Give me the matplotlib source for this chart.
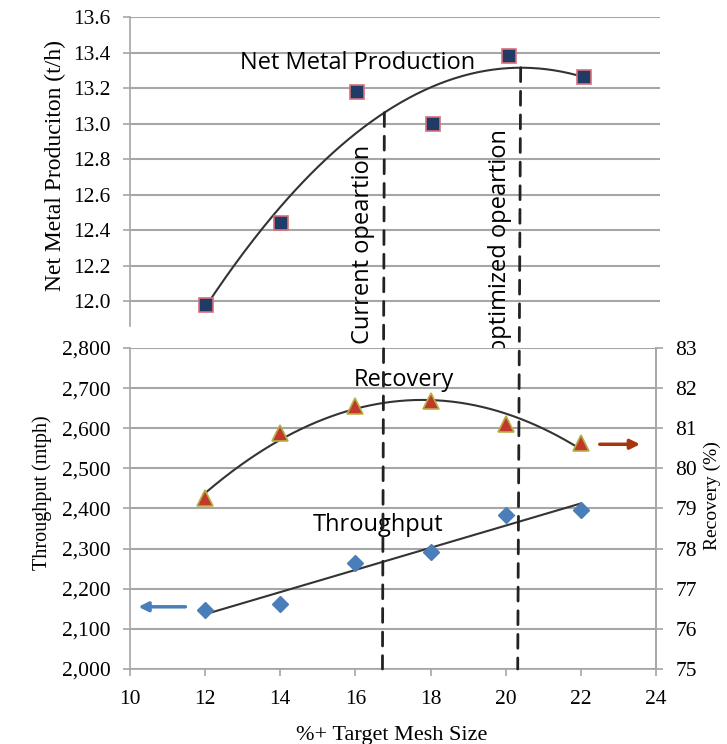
import numpy as np
import matplotlib
matplotlib.use("Agg")
import matplotlib.pyplot as plt
from matplotlib.patches import ConnectionPatch

# ---- data ----
mesh = [12, 14, 16, 18, 20, 22]
net_metal = [11.98, 12.44, 13.18, 13.00, 13.38, 13.26]
throughput = [2148, 2162, 2265, 2292, 2384, 2396]
recovery = [79.26, 80.88, 81.56, 81.69, 81.10, 80.63]
current_op = 16.72
optimized_op = 20.32
net_ticks = [12.0, 12.2, 12.4, 12.6, 12.8, 13.0, 13.2, 13.4, 13.6]
thr_ticks = [2000, 2100, 2200, 2300, 2400, 2500, 2600, 2700, 2800]
rec_ticks = [75, 76, 77, 78, 79, 80, 81, 82, 83]
x_ticks = [10, 12, 14, 16, 18, 20, 22, 24]

SERIF = "Liberation Serif"
SANS = "Open Sans"
GRID = "#a6a6a6"
TICK_FS = 15.5
ANN_FS = 17

fig = plt.figure(figsize=(7.27, 7.44), dpi=100)
ax_top = fig.add_axes([0.1788, 0.5618, 0.729, 0.4153])
ax_bot = fig.add_axes([0.1788, 0.1008, 0.7235, 0.4315])
ax_rec = ax_bot.twinx()

# ---- top panel ----
xs = np.linspace(12, 22, 200)
p_top = np.polyfit(mesh, net_metal, 2)
ax_top.plot(xs, np.polyval(p_top, xs), color="#333333", lw=1.5, zorder=3)
ax_top.plot(mesh, net_metal, ls="none", marker="s", ms=10, mfc="#1f3b66",
            mec="#d9707a", mew=1.2, zorder=4)
ax_top.set_xlim(10, 24)
ax_top.set_ylim(11.86, 13.6)
ax_top.set_yticks(net_ticks)
ax_top.set_yticklabels([f"{v:.1f}" for v in net_ticks], family=SERIF, fontsize=TICK_FS)
ax_top.set_xticks([])
for s in ["top", "right", "bottom"]:
    ax_top.spines[s].set_visible(False)
ax_top.spines["left"].set_color(GRID)
ax_top.spines["left"].set_linewidth(1.2)
ax_top.tick_params(axis="y", color=GRID, length=5, width=1.2, pad=9)
ax_top.grid(axis="y", color=GRID, lw=1.5)
ax_top.set_axisbelow(True)
ax_top.set_ylabel("Net Metal Produciton (t/h)", family=SERIF, fontsize=17, va="center")
ax_top.yaxis.set_label_coords(-0.1415, 0.518)
ax_top.text(16.0, 13.34, "Net Metal Production", family=SANS, fontsize=ANN_FS,
            ha="center", va="center")
ax_top.text(16.16, 12.32, "Current opeartion", family=SANS, fontsize=ANN_FS,
            rotation=90, ha="center", va="center")
ax_top.text(19.78, 12.34, "optimized opeartion", family=SANS, fontsize=ANN_FS,
            rotation=90, ha="center", va="center")

# ---- bottom panel ----
p_thr = np.polyfit(mesh, throughput, 1)
ax_bot.plot(xs, np.polyval(p_thr, xs), color="#333333", lw=1.5, zorder=3)
ax_bot.plot(mesh, throughput, ls="none", marker="D", ms=8.5, mfc="#4a7ebb",
            mec="#4a7ebb", zorder=4)
ax_bot.set_xlim(10, 24)
ax_bot.set_ylim(2000, 2800)
ax_bot.set_yticks(thr_ticks)
ax_bot.set_yticklabels([f"{v:,}" for v in thr_ticks], family=SERIF, fontsize=TICK_FS)
ax_bot.set_xticks(x_ticks)
ax_bot.set_xticklabels([str(v) for v in x_ticks], family=SERIF, fontsize=TICK_FS)
ax_bot.grid(axis="y", color=GRID, lw=1.5)
ax_bot.set_axisbelow(True)
ax_bot.spines["top"].set_visible(False)
for s in ["left", "bottom", "right"]:
    ax_bot.spines[s].set_color(GRID)
    ax_bot.spines[s].set_linewidth(1.2)
ax_bot.tick_params(color=GRID, length=5, width=1.2)
ax_bot.tick_params(axis="y", pad=9)
ax_bot.tick_params(axis="x", pad=10)
ax_bot.set_ylabel("Throughput (mtph)", family=SERIF, fontsize=14.5, va="center")
ax_bot.yaxis.set_label_coords(-0.167, 0.55)
ax_bot.set_xlabel("%+ Target Mesh Size", family=SERIF, fontsize=16, va="center")
ax_bot.xaxis.set_label_coords(0.498, -0.206)
ax_bot.text(16.6, 2359, "Throughput", family=SANS, fontsize=ANN_FS, ha="center", va="center")
ax_bot.annotate("", xy=(10.15, 2155), xytext=(11.55, 2155),
                arrowprops=dict(arrowstyle="-|>", color="#4a7ebb", lw=2.5,
                                mutation_scale=14))

p_rec = np.polyfit(mesh, recovery, 2)
ax_rec.plot(xs, np.polyval(p_rec, xs), color="#333333", lw=1.5, zorder=3)
ax_rec.plot(mesh, recovery, ls="none", marker="^", ms=12, mfc="#c0392b",
            mec="#b5b04a", mew=1.2, zorder=4)
ax_rec.set_ylim(75, 83)
ax_rec.set_yticks(rec_ticks)
ax_rec.set_yticklabels([str(v) for v in rec_ticks], family=SERIF, fontsize=TICK_FS)
ax_rec.tick_params(color=GRID, length=5, width=1.2, pad=9)
for s in ["top", "left", "bottom"]:
    ax_rec.spines[s].set_visible(False)
ax_rec.spines["right"].set_color(GRID)
ax_rec.spines["right"].set_linewidth(1.2)
ax_rec.set_ylabel("Recovery (%)", family=SERIF, fontsize=14, va="center")
ax_rec.yaxis.set_label_coords(1.108, 0.539)
ax_rec.text(17.28, 82.2, "Recovery", family=SANS, fontsize=ANN_FS, ha="center", va="center")
ax_rec.annotate("", xy=(23.65, 80.6), xytext=(22.43, 80.6),
                arrowprops=dict(arrowstyle="-|>", color="#a5360e", lw=2.5,
                                mutation_scale=14))

# ---- dashed operation lines spanning both panels ----
for xv in (current_op, optimized_op):
    con = ConnectionPatch(xyA=(xv, np.polyval(p_top, xv)), coordsA=ax_top.transData,
                          xyB=(xv, 2000), coordsB=ax_bot.transData,
                          color="#222222", lw=2, ls=(0, (5, 3.5)), zorder=5)
    fig.add_artist(con)

fig.savefig("out.png", dpi=100)
